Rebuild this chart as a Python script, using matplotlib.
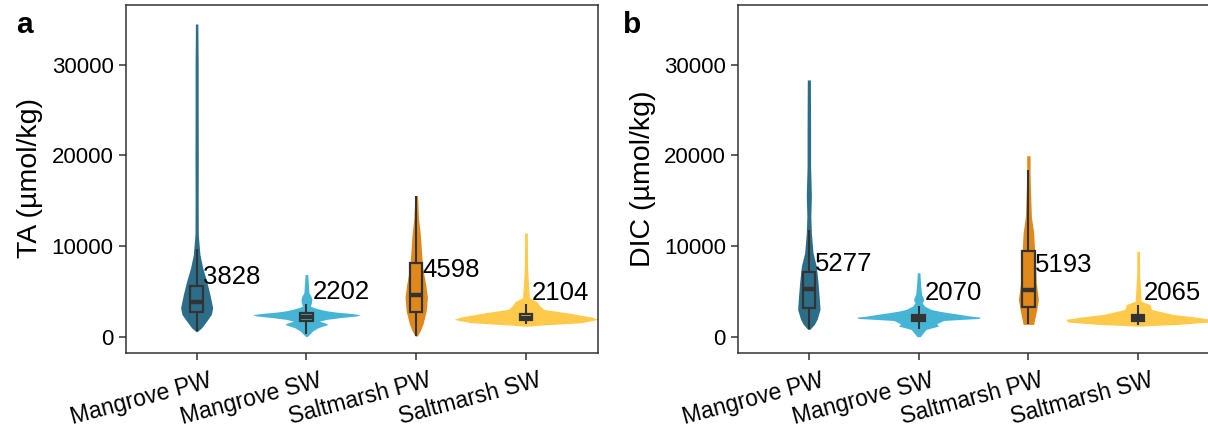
import matplotlib
matplotlib.use("Agg")
import matplotlib.pyplot as plt
import matplotlib.transforms as mtransforms
import numpy as np

plt.rcParams['font.family'] = ['Liberation Sans', 'DejaVu Sans']

categories = ["Mangrove PW", "Mangrove SW", "Saltmarsh PW", "Saltmarsh SW"]
colors = ["#2C6E8A", "#46B5D5", "#E0891A", "#FFCA4C"]

# ---- TA violin profiles (value, half-width in category units) ----
ta_mpw_vals = [550, 990, 1720, 2460, 3190, 4660, 6120, 7600, 9060, 11270, 15000, 20000, 25000, 30000, 34500]
ta_mpw_w = [0.005, 0.046, 0.091, 0.134, 0.146, 0.121, 0.091, 0.055, 0.030, 0.015, 0.014, 0.015, 0.014, 0.014, 0.011]
ta_msw_vals = [0, 363, 617, 991, 1354, 1541, 1718, 1905, 2092, 2290, 2422, 2565, 2708, 2863, 3006, 3226,
               3369, 3743, 4107, 4470, 4844, 5758, 6859]
ta_msw_w = [0.005, 0.036, 0.055, 0.107, 0.198, 0.164, 0.118, 0.182, 0.301, 0.455, 0.492, 0.410, 0.273, 0.182,
            0.128, 0.064, 0.036, 0.046, 0.050, 0.041, 0.023, 0.018, 0.012]
ta_spw_vals = [66, 617, 1354, 2819, 4294, 5758, 7597, 9425, 11263, 13102, 15560]
ta_spw_w = [0.009, 0.036, 0.061, 0.091, 0.102, 0.087, 0.059, 0.048, 0.038, 0.021, 0.012]
ta_ssw_vals = [1167, 1277, 1541, 1905, 2158, 2642, 3006, 3369, 3853, 4294, 5758, 7597, 11450]
ta_ssw_w = [0.018, 0.137, 0.501, 0.656, 0.601, 0.373, 0.164, 0.128, 0.100, 0.032, 0.023, 0.015, 0.012]

# ---- DIC violin profiles ----
dic_mpw_vals = [804, 1354, 1905, 3006, 4107, 5945, 7773, 9248, 11450, 13278, 15480, 16581, 18783, 22460, 26127, 28329]
dic_mpw_w = [0.009, 0.050, 0.075, 0.102, 0.096, 0.084, 0.068, 0.038, 0.023, 0.018, 0.023, 0.021, 0.016, 0.016, 0.015, 0.014]
dic_msw_vals = [0, 330, 800, 1170, 1430, 1790, 1900, 2010, 2150, 2300, 2450, 2640, 2820, 3010, 3370, 3740,
                4000, 4290, 4660, 5760, 7050]
dic_msw_w = [0.014, 0.036, 0.068, 0.182, 0.164, 0.228, 0.383, 0.546, 0.565, 0.455, 0.383, 0.273, 0.182, 0.114,
             0.055, 0.032, 0.046, 0.041, 0.027, 0.018, 0.012]
dic_spw_vals = [1354, 1905, 3006, 4107, 5945, 7773, 9612, 11450, 13278, 15855, 18056, 19961]
dic_spw_w = [0.048, 0.057, 0.076, 0.091, 0.071, 0.066, 0.056, 0.048, 0.027, 0.020, 0.015, 0.015]
dic_ssw_vals = [1167, 1354, 1607, 1905, 2202, 2455, 3006, 3556, 3920, 4844, 6672, 9425]
dic_ssw_w = [0.018, 0.364, 0.638, 0.662, 0.501, 0.319, 0.121, 0.107, 0.027, 0.023, 0.014, 0.012]

# ---- box stats: whisker_lo, q1, median, q3, whisker_hi ----
ta_box = [
    [620, 2750, 3828, 5570, 9700],
    [250, 1760, 2202, 2620, 3560],
    [100, 2710, 4598, 8150, 15560],
    [1350, 1800, 2104, 2500, 3560],
]
dic_box = [
    [800, 3190, 5277, 7110, 11820],
    [800, 1700, 2070, 2420, 3370],
    [1350, 3300, 5193, 9430, 18350],
    [1240, 1700, 2065, 2420, 3450],
]
ta_medians = [3828, 2202, 4598, 2104]
dic_medians = [5277, 2070, 5193, 2065]

yticks = [0, 10000, 20000, 30000]

W, H = 1208, 432
fig = plt.figure(figsize=(W / 100, H / 100), dpi=100)

def px_axes(x0, x1, y0, y1):
    return fig.add_axes([x0 / W, 1 - y1 / H, (x1 - x0) / W, (y1 - y0) / H])

axL = px_axes(125.5, 598, 4.5, 352.5)
axR = px_axes(737.7, 1210.2, 4.5, 352.5)

def draw(ax, profiles, boxes, medians, ylabel):
    for i, ((vals, ws), box, col, med) in enumerate(zip(profiles, boxes, colors, medians)):
        c = i + 1
        v = np.array(vals, float)
        w = np.array(ws, float)
        ax.fill_betweenx(v, c - w, c + w, color=col, lw=0, zorder=1)
        lo, q1, md, q3, hi = box
        bw = 0.056
        ax.plot([c, c], [lo, q1], color="#333333", lw=1.5, zorder=2, solid_capstyle='butt')
        ax.plot([c, c], [q3, hi], color="#333333", lw=1.5, zorder=2, solid_capstyle='butt')
        ax.add_patch(plt.Rectangle((c - bw, q1), 2 * bw, q3 - q1, facecolor=col,
                                   edgecolor="#333333", lw=1.6, zorder=3))
        ax.plot([c - bw, c + bw], [md, md], color="#333333", lw=3.2, zorder=4,
                solid_capstyle='butt')
        ax.annotate(str(med), xy=(c + 0.055, med), xytext=(0, 18),
                    textcoords='offset pixels', ha='left', va='baseline',
                    fontsize=18.5, color='black', zorder=5)
    ax.set_xlim(0.352, 4.656)
    ax.set_ylim(-1745, 36650)
    ax.set_yticks(yticks)
    ax.set_yticklabels([str(t) for t in yticks], fontsize=16, color='black')
    ax.set_xticks([1, 2, 3, 4])
    ax.tick_params(axis='x', labelbottom=False)
    shift = mtransforms.ScaledTranslation(11.5 / 100, -16.5 / 100, fig.dpi_scale_trans)
    for j, name in enumerate(categories):
        ax.text(j + 1, 0, name, transform=ax.get_xaxis_transform() + shift,
                fontsize=16.5, color='black', rotation=15, ha='right', va='top',
                rotation_mode='anchor', clip_on=False)
    ax.tick_params(axis='both', length=5, width=1.1, color='#333333', pad=3.5)
    for s in ax.spines.values():
        s.set_color('#333333')
        s.set_linewidth(1.1)
    ax.set_ylabel(ylabel, fontsize=20.5, labelpad=6)

draw(axL, [(ta_mpw_vals, ta_mpw_w), (ta_msw_vals, ta_msw_w), (ta_spw_vals, ta_spw_w), (ta_ssw_vals, ta_ssw_w)],
     ta_box, ta_medians, "TA (µmol/kg)")
draw(axR, [(dic_mpw_vals, dic_mpw_w), (dic_msw_vals, dic_msw_w), (dic_spw_vals, dic_spw_w), (dic_ssw_vals, dic_ssw_w)],
     dic_box, dic_medians, "DIC (µmol/kg)")

fig.text(16 / W, 1 - 33 / H, "a", fontsize=21.5, fontweight='bold', ha='left', va='baseline')
fig.text(623 / W, 1 - 33 / H, "b", fontsize=21.5, fontweight='bold', ha='left', va='baseline')

fig.savefig("out.png", dpi=100)
